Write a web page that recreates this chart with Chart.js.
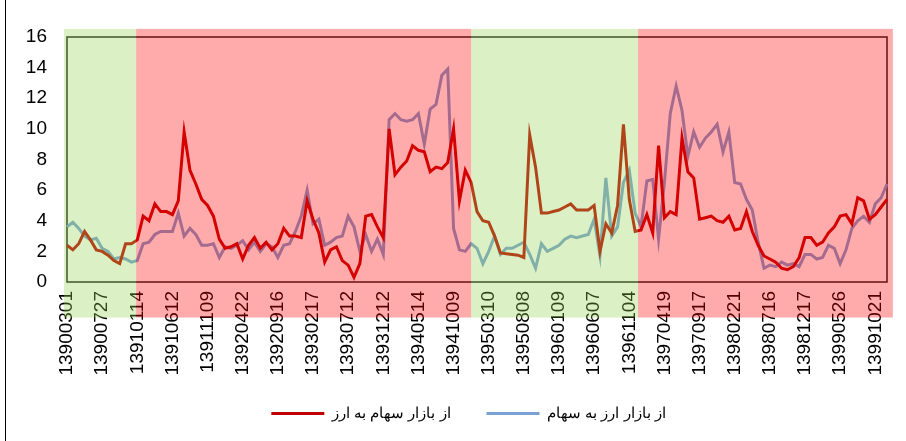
<!DOCTYPE html>
<html>
<head>
<meta charset="utf-8">
<script src="https://cdn.jsdelivr.net/npm/chart.js@4.4.1/dist/chart.umd.min.js"></script>
<style>
    html, body { margin: 0; padding: 0; background: #ffffff; overflow: hidden; }
    #spillChart { display: block; }
</style>
</head>
<body>
<canvas id="spillChart" width="906" height="441"></canvas>
<script>
// tick labels on the x axis (one every 6 points)
const tickLabels = ['13900301', '13900727', '13910114', '13910612', '13911109', '13920422',
    '13920916', '13930217', '13930712', '13931212', '13940514', '13941009',
    '13950310', '13950808', '13960109', '13960607', '13961104', '13970419',
    '13970917', '13980221', '13980716', '13981217', '13990526', '13991021'];
const pointsPerTick = 6;

const seriesNames = ['از بازار سهام به ارز', 'از بازار ارز به سهام'];

// از بازار سهام به ارز
const stockToFx = [
    2.4, 2.1, 2.5, 3.3, 2.75, 2.1, 2.0, 1.75, 1.4, 1.2,
    2.5, 2.5, 2.75, 4.3, 4.0, 5.1, 4.6, 4.6, 4.4, 5.3,
    9.8, 7.3, 6.4, 5.4, 5.0, 4.3, 2.8, 2.2, 2.3, 2.5,
    1.5, 2.4, 2.9, 2.2, 2.6, 2.1, 2.5, 3.5, 3.0, 3.0,
    2.9, 5.3, 4.1, 3.2, 1.3, 2.1, 2.3, 1.4, 1.1, 0.3,
    1.2, 4.3, 4.4, 3.6, 2.9, 10.0, 7.0, 7.5, 7.9, 8.9,
    8.6, 8.5, 7.2, 7.5, 7.4, 7.8, 10.0, 5.3, 7.3, 6.5,
    4.6, 4.0, 3.9, 3.0, 1.9, 1.85, 1.8, 1.75, 1.6, 9.6,
    7.5, 4.5, 4.5, 4.6, 4.7, 4.9, 5.1, 4.7, 4.7, 4.7,
    5.0, 2.0, 3.8, 3.2, 5.0, 10.3, 5.4, 3.3, 3.4, 4.4,
    3.2, 8.9, 4.2, 4.6, 4.4, 9.4, 7.2, 6.8, 4.1, 4.2,
    4.3, 4.0, 3.9, 4.3, 3.4, 3.5, 4.6, 3.3, 2.4, 1.7,
    1.5, 1.3, 0.9, 0.8, 1.0, 1.6, 2.9, 2.9, 2.4, 2.6,
    3.2, 3.6, 4.3, 4.4, 3.8, 5.5, 5.3, 4.1, 4.4, 4.9,
    5.4
];

// از بازار ارز به سهام
const fxToStock = [
    3.6, 3.9, 3.5, 3.0, 2.75, 2.85, 2.2, 2.0, 1.5, 1.6,
    1.5, 1.3, 1.4, 2.5, 2.6, 3.1, 3.3, 3.3, 3.3, 4.5,
    3.0, 3.5, 3.1, 2.4, 2.4, 2.5, 1.6, 2.3, 2.2, 2.4,
    2.7, 2.1, 2.6, 2.0, 2.5, 2.3, 1.6, 2.4, 2.5, 3.3,
    4.3, 6.0, 3.8, 4.1, 2.4, 2.6, 2.9, 3.0, 4.3, 3.6,
    2.0, 3.1, 2.0, 2.8, 1.8, 10.6, 11.0, 10.6, 10.5, 10.6,
    11.0, 9.0, 11.3, 11.6, 13.5, 13.9, 3.5, 2.1, 2.0, 2.5,
    2.2, 1.2, 2.0, 3.0, 1.8, 2.2, 2.2, 2.4, 2.6, 1.8,
    0.9, 2.5, 2.0, 2.2, 2.4, 2.8, 3.0, 2.9, 3.0, 3.1,
    4.1, 1.7, 6.8, 3.0, 3.6, 6.5, 7.3, 4.5, 3.6, 6.6,
    6.7, 2.8, 6.5, 11.0, 12.8, 11.2, 8.2, 9.8, 8.8, 9.4,
    9.8, 10.3, 8.5, 9.8, 6.5, 6.4, 5.4, 4.7, 2.6, 0.9,
    1.1, 1.0, 1.3, 1.1, 1.2, 1.0, 1.8, 1.8, 1.5, 1.6,
    2.4, 2.2, 1.2, 2.1, 3.5, 4.0, 4.3, 3.9, 5.1, 5.5,
    6.4
];

// regime bands, in point-index units along the x axis
const bandStarts = [-0.5, 11.8, 69.0, 97.5];
const bandEnds = [11.8, 69.0, 97.5, 141.0];
const bandKinds = ['green', 'red', 'green', 'red'];

const FONT = "'Liberation Sans', Arial, sans-serif";

// category labels: a date every 6 points, blank otherwise
const labels = stockToFx.map((_, i) => (i % pointsPerTick === 0 && tickLabels[i / pointsPerTick]) ? tickLabels[i / pointsPerTick] : '');

// frame around the plot (drawn under the lines)
const plotFrame = {
    id: 'plotFrame',
    beforeDatasetsDraw(chart) {
        const { ctx, chartArea } = chart;
        ctx.save();
        ctx.strokeStyle = '#1a1a1a';
        ctx.lineWidth = 1.5;
        ctx.strokeRect(chartArea.left, chartArea.top, chartArea.right - chartArea.left, chartArea.bottom - chartArea.top);
        // left edge of the outer border
        ctx.strokeStyle = '#000';
        ctx.lineWidth = 1;
        ctx.beginPath();
        ctx.moveTo(5.5, 0);
        ctx.lineTo(5.5, chart.height);
        ctx.stroke();
        ctx.restore();
    }
};

// translucent bands laid over everything
const regimeBands = {
    id: 'regimeBands',
    afterDatasetsDraw(chart) {
        const { ctx, scales } = chart;
        const x = scales.x, y = scales.y;
        const top = y.getPixelForValue(16.53);
        const bottom = y.getPixelForValue(-2.32);
        ctx.save();
        bandKinds.forEach((kind, i) => {
            const x0 = x.getPixelForValue(bandStarts[i]);
            const x1 = x.getPixelForValue(bandEnds[i]);
            ctx.fillStyle = kind === 'green' ? 'rgba(146, 208, 80, 0.33)' : 'rgba(255, 0, 0, 0.33)';
            ctx.fillRect(x0, top, x1 - x0, bottom - top);
        });
        ctx.restore();
    }
};

// nudge the legend a bit right and up, like in the original
const legendShift = {
    id: 'legendShift',
    afterLayout(chart) {
        const lg = chart.legend;
        if (!lg) return;
        lg.left += 50;
        lg.top -= 8;
        lg.bottom -= 8;
    }
};

const ctx = document.getElementById('spillChart').getContext('2d');
new Chart(ctx, {
    type: 'line',
    data: {
        labels: labels,
        datasets: [
            {
                label: seriesNames[0],
                data: stockToFx,
                borderColor: '#c00000',
                backgroundColor: '#c00000',
                borderWidth: 3,
                pointRadius: 0,
                pointStyle: 'line',
                tension: 0
            },
            {
                label: seriesNames[1],
                data: fxToStock,
                borderColor: '#7aa0d4',
                backgroundColor: '#7aa0d4',
                borderWidth: 3,
                pointRadius: 0,
                pointStyle: 'line',
                tension: 0
            }
        ]
    },
    options: {
        responsive: false,
        animation: false,
        devicePixelRatio: 1,
        layout: { padding: { top: 37, right: 19, left: 0, bottom: 2 } },
        plugins: {
            tooltip: { enabled: false },
            legend: {
                position: 'bottom',
                labels: {
                    usePointStyle: true,
                    pointStyle: 'line',
                    pointStyleWidth: 53,
                    padding: 36,
                    color: '#000',
                    font: { family: FONT, size: 15 }
                }
            }
        },
        scales: {
            x: {
                type: 'category',
                grid: { display: false, drawTicks: false },
                border: { display: false },
                ticks: {
                    autoSkip: false,
                    minRotation: 90,
                    maxRotation: 90,
                    padding: 9,
                    color: '#000',
                    font: { family: FONT, size: 19 }
                },
                afterFit(scale) {
                    scale.height = 96;
                    scale.paddingLeft = 0;
                    scale.paddingRight = 0;
                }
            },
            y: {
                min: 0,
                max: 16,
                grid: { display: false, drawTicks: false },
                border: { display: false },
                ticks: {
                    stepSize: 2,
                    padding: 20,
                    color: '#000',
                    font: { family: FONT, size: 19 }
                },
                afterFit(scale) { scale.width = 67; }
            }
        }
    },
    plugins: [plotFrame, regimeBands, legendShift]
});
</script>
</body>
</html>
